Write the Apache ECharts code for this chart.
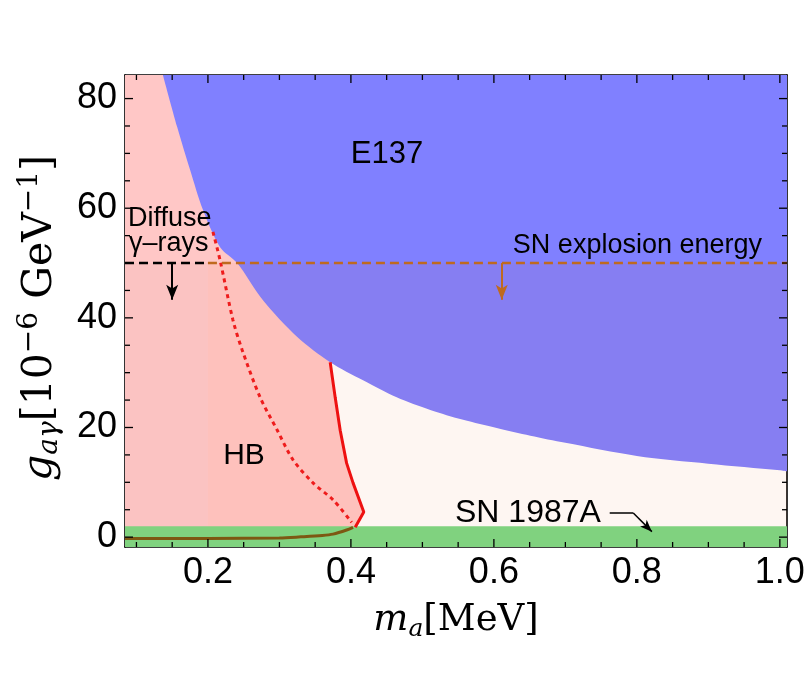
<!DOCTYPE html>
<html lang="en">
<head>
    <meta charset="UTF-8">
    <title>ALP bounds</title>
    <script src="https://cdn.jsdelivr.net/npm/echarts@6.0.0/dist/echarts.min.js"></script>
    <style>
        *{
            margin: 0;
            padding: 0;
        }
        html, body{
            background: #fff;
        }
        .container{
            width: 810px;
            height: 676px;
        }
    </style>
</head>
<body>
<div class="container"></div>
<script>
    // axis ranges and ticks
    const xMin = 0.084, xMax = 1.01;
    const yMin = -1.8, yMax = 84.3;
    const xMajor = [0.2, 0.4, 0.6, 0.8, 1.0];
    const xMinor = [0.1, 0.15, 0.25, 0.3, 0.35, 0.45, 0.5, 0.55, 0.65, 0.7, 0.75, 0.85, 0.9, 0.95];
    const yMajor = [0, 20, 40, 60, 80];
    const yMinor = [5, 10, 15, 25, 30, 35, 45, 50, 55, 65, 70, 75];

    // E137 lower edge (excluded above)
    const e137M = [0.137, 0.157, 0.175, 0.193, 0.217, 0.241, 0.277, 0.325, 0.371, 0.417, 0.464, 0.511, 0.557, 0.604, 0.651, 0.70, 0.80, 0.90, 1.00, 1.01];
    const e137G = [84.3, 74.8, 67.0, 59.7, 52.9, 50.0, 43.2, 36.5, 31.9, 28.6, 25.5, 23.2, 21.4, 19.9, 18.5, 17.2, 14.8, 13.4, 12.2, 12.0];

    // HB bound, solid red edge
    const hbM = [0.371, 0.378, 0.385, 0.394, 0.403, 0.418, 0.406];
    const hbG = [31.9, 25.5, 19.5, 13.5, 9.9, 4.6, 1.8];

    // HB dotted curve
    const dotM = [0.207, 0.217, 0.235, 0.248, 0.273, 0.297, 0.319, 0.347, 0.375, 0.401];
    const dotG = [55.7, 50.5, 39.6, 34.1, 25.5, 19.5, 14.1, 9.9, 6.8, 2.7];

    // brown curve along the bottom
    const brM = [0.084, 0.20, 0.30, 0.33, 0.36, 0.375, 0.394, 0.403];
    const brG = [-0.25, -0.25, -0.15, 0.05, 0.3, 0.55, 1.3, 1.8];

    // SN 1987A band top, explosion energy / diffuse gamma limit
    const sn1987Top = 2.0;
    const limitG = 50;
    const diffuseEnd = 0.2;
    const diffuseArrow = [[0.150, 50], [0.150, 43.3]];
    const explosionArrow = [[0.611, 50], [0.611, 43.3]];
    const snPointer = [[0.762, 4.4], [0.795, 4.4], [0.821, 1.0]];

    const zip = (a, b) => a.map((v, i) => [v, b[i]]);

    const e137 = zip(e137M, e137G);
    const hb = zip(hbM, hbG);
    const hbPoly = [[xMin, yMax], [hbM[0], yMax]].concat(hb, [[hbM[hbM.length - 1], yMin], [xMin, yMin]]);

    const pink = '#ffc7c6';
    const blue = '#8080ff';
    const brown = '#bf6a1f';
    const font = 'Liberation Sans, Arial, sans-serif';
    const serif = 'DejaVu Serif, serif';

    let main = document.querySelectorAll(".container");
    let mycharts = echarts.init(main[0]);

    function area(data, color, origin, smooth) {
        return {
            type: 'line',
            data,
            showSymbol: false,
            silent: true,
            smooth: smooth || false,
            lineStyle: {width: 0, opacity: 0},
            areaStyle: {color, opacity: 1, origin},
        };
    }

    function curve(data, color, width, type, smooth) {
        return {
            type: 'line',
            data,
            showSymbol: false,
            silent: true,
            smooth: smooth || false,
            lineStyle: {color, width, type: type || 'solid'},
        };
    }

    function arrow(pair, color, size, width) {
        return {
            silent: true,
            symbol: ['none', 'arrow'],
            symbolSize: size || [9, 15],
            label: {show: false},
            lineStyle: {color, width: width || 2, type: 'solid'},
            data: [[{coord: pair[0]}, {coord: pair[1]}]],
        };
    }

    function xAx(pos, labels) {
        return {
            type: 'value', min: xMin, max: xMax, position: pos,
            axisLine: {show: true, onZero: false, lineStyle: {color: '#000', width: 1.6}},
            axisTick: {show: false},
            axisLabel: {show: labels, customValues: xMajor, margin: 8, color: '#000', fontSize: 36, fontFamily: font,
                formatter: v => v.toFixed(1)},
            splitLine: {show: false},
        };
    }

    function yAx(pos, labels) {
        return {
            type: 'value', min: yMin, max: yMax, position: pos,
            axisLine: {show: true, onZero: false, lineStyle: {color: '#000', width: 1.6}},
            axisTick: {show: false},
            axisLabel: {show: labels, customValues: yMajor, margin: 8, color: '#000', fontSize: 36, fontFamily: font},
            splitLine: {show: false},
        };
    }

    // inward frame ticks, placed through the axis scales and drawn above the filled regions
    const frameTicks = {
        type: 'custom',
        z: 20,
        silent: true,
        data: [0],
        renderItem: function (params, api) {
            const lines = [];
            const add = (p, dx, dy) => lines.push({
                type: 'line',
                shape: {x1: p[0], y1: p[1], x2: p[0] + dx, y2: p[1] + dy},
                style: {stroke: '#000', lineWidth: 1.3},
            });
            [[xMajor, 8], [xMinor, 5]].forEach(([vals, len]) => vals.forEach(v => {
                add(api.coord([v, yMin]), 0, -len);
                add(api.coord([v, yMax]), 0, len);
            }));
            [[yMajor, 8], [yMinor, 5]].forEach(([vals, len]) => vals.forEach(v => {
                add(api.coord([xMin, v]), len, 0);
                add(api.coord([xMax, v]), -len, 0);
            }));
            return {type: 'group', children: lines};
        },
    };

    let series = [
        {
            type: 'custom',
            silent: true,
            data: hbPoly,
            renderItem: function (params, api) {
                if (params.dataIndex !== 0) return;
                return {
                    type: 'polygon',
                    shape: {points: hbPoly.map(p => api.coord(p))},
                    style: {fill: pink},
                };
            },
        },
        area(e137, blue, 'end', 0.3),
        area([[diffuseEnd, limitG], [xMax, limitG]], 'rgba(230,90,20,0.055)', 'start'),
        area([[xMin, limitG], [diffuseEnd, limitG]], 'rgba(0,0,0,0.015)', 'start'),
        area([[xMin, sn1987Top], [xMax, sn1987Top]], '#80d27f', 'start'),
        curve(zip(dotM, dotG), '#ee1c1c', 3, [4, 4], 0.3),
        curve(hb, '#ee1111', 3),
        curve(zip(brM, brG), '#7d5812', 3, 'solid', 0.3),
        Object.assign(curve([[xMin, limitG], [diffuseEnd, limitG]], '#000', 2.5, [9, 5]),
            {markLine: arrow(diffuseArrow, '#000')}),
        Object.assign(curve([[diffuseEnd, limitG], [xMax, limitG]], brown, 2.5, [9, 5]),
            {markLine: arrow(explosionArrow, brown)}),
        Object.assign(curve(snPointer.slice(0, 2), '#000', 1.5),
            {markLine: arrow(snPointer.slice(1), '#000', [7, 12], 1.5)}),
        frameTicks,
    ];

    function txt(x, y, text, size, align) {
        return {
            type: 'text', x, y, silent: true, z: 100,
            style: {text, fontSize: size, fontFamily: font, fill: '#000', align: align || 'left', verticalAlign: 'middle'},
        };
    }

    let Option = {
        animation: false,
        backgroundColor: '#fff',
        grid: {left: 125, right: 23, top: 75, bottom: 129},
        xAxis: [xAx('bottom', true), xAx('top', false)],
        yAxis: [yAx('left', true), yAx('right', false)],
        series,
        graphic: [
            txt(387, 154, 'E137', 31, 'center'),
            txt(244, 456, 'HB', 30, 'center'),
            txt(128, 219, 'Diffuse', 27),
            txt(129, 244, 'γ–rays', 27),
            txt(762, 246, 'SN explosion energy', 27, 'right'),
            txt(455, 513, 'SN 1987A', 32),
            {
                type: 'text', x: 456, y: 620, silent: true,
                style: {
                    text: '{i|m}{sub|a}{n|[MeV]}',
                    align: 'center', verticalAlign: 'middle',
                    rich: {
                        i: {fontFamily: serif, fontStyle: 'italic', fontSize: 37, fill: '#000', lineHeight: 44},
                        sub: {fontFamily: serif, fontStyle: 'italic', fontSize: 25, fill: '#000', verticalAlign: 'bottom', lineHeight: 28},
                        n: {fontFamily: serif, fontSize: 37, fill: '#000', lineHeight: 44},
                    }
                }
            },
            {
                type: 'text', x: 40, y: 318, rotation: Math.PI / 2, silent: true,
                style: {
                    text: '{i|g}{sub|aγ}{n|[10}{sup|−6}{n| GeV}{sup|−1}{n|]}',
                    align: 'center', verticalAlign: 'middle',
                    rich: {
                        i: {fontFamily: serif, fontStyle: 'italic', fontSize: 41, fill: '#000', lineHeight: 48},
                        sub: {fontFamily: serif, fontStyle: 'italic', fontSize: 28, fill: '#000', verticalAlign: 'bottom', lineHeight: 30},
                        sup: {fontFamily: serif, fontSize: 28, fill: '#000', verticalAlign: 'top', lineHeight: 30},
                        n: {fontFamily: serif, fontSize: 41, fill: '#000', lineHeight: 48},
                    }
                }
            },
        ],
    };

    mycharts.setOption(Option);
</script>
</body>
</html>
